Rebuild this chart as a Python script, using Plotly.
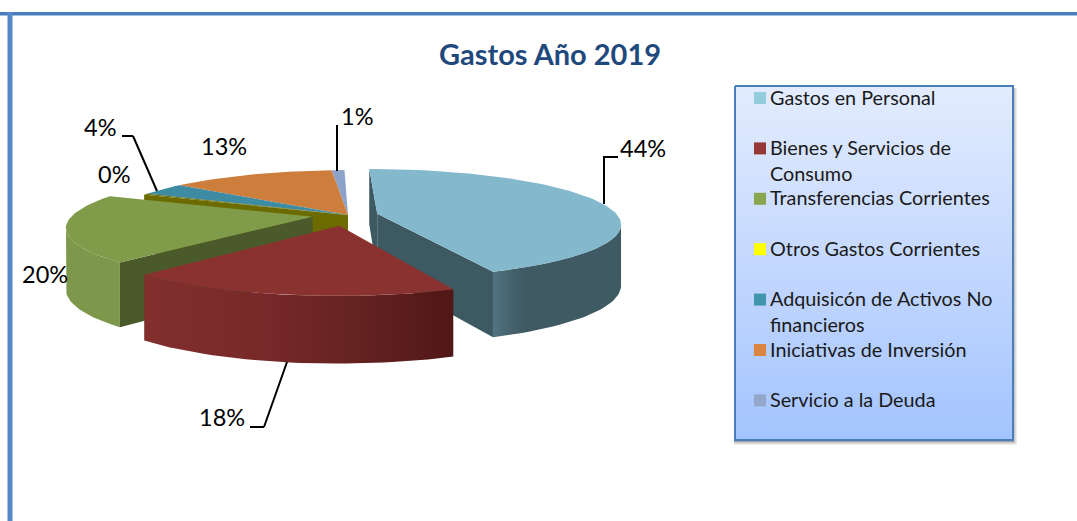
import math
import plotly.graph_objects as go

title = "Gastos Año 2019"
categories = ["Gastos en Personal", "Bienes y Servicios de<br>Consumo", "Transferencias Corrientes",
              "Otros Gastos Corrientes", "Adquisicón de Activos No<br>financieros",
              "Iniciativas de Inversión", "Servicio a la Deuda"]
values = [44, 18, 20, 0.4, 3.6, 13, 1]
pulls = [0.125, 0.2, 0.15, 0, 0, 0, 0]

legend_colors = ["#93cddd", "#953735", "#8aa64f", "#ffff00", "#4196ae", "#dc853f", "#94a7cb"]
top_colors = ["#84b9cd", "#8a3230", "#809c4b", "#6b6b00", "#3e8ca3", "#cd7e3c", "#8da2c9"]
cut_colors = ["#3d5961", "#5a1c1b", "#4a5a2a", "#6b6b00", "#2a6070", "#8a5528", "#60708a"]

# pie projection (pixel space of the full page)
CX, CY, RX, RY, P, DEPTH = 348, 215, 240, 53, 0.18, 60
ROTATION = math.radians(-1)

def proj(u, v, d=0.0):
    s = 1 / (1 - P * v)
    return CX + RX * u * s, CY + RY * v * s + d * DEPTH * s ** 0.5

def slice_angles(i):
    total = sum(values)
    return (ROTATION + 2 * math.pi * sum(values[:i]) / total,
            ROTATION + 2 * math.pi * sum(values[:i + 1]) / total)

def slice_geom(i, a0=None, a1=None):
    s0, s1 = slice_angles(i)
    mid = (s0 + s1) / 2
    a0 = s0 if a0 is None else a0
    a1 = s1 if a1 is None else a1
    du, dv = pulls[i] * math.sin(mid), -pulls[i] * math.cos(mid)
    n = max(3, int((a1 - a0) / 0.03))
    angs = [a0 + (a1 - a0) * k / n for k in range(n + 1)]
    rim = [(du + math.sin(a), dv - math.cos(a)) for a in angs]
    return (du, dv), rim

fig = go.Figure()

def poly(pts, color=None, gradient=None):
    xs = [p[0] for p in pts] + [pts[0][0]]
    ys = [p[1] for p in pts] + [pts[0][1]]
    kw = dict(fillgradient=gradient) if gradient else dict(fillcolor=color)
    fig.add_trace(go.Scatter(x=xs, y=ys, mode="lines", fill="toself", line=dict(width=0),
                             hoverinfo="skip", showlegend=False, **kw))

def top(i):
    tip, rim = slice_geom(i)
    poly([proj(*tip)] + [proj(*r) for r in rim], top_colors[i])

def arc_wall(i, color=None, gradient=None):
    s0, s1 = slice_angles(i)
    sil = math.acos(-P)  # rim silhouette: only the part facing the viewer gets a wall
    a0, a1 = max(s0, sil), min(s1, 2 * math.pi - sil)
    _, rim = slice_geom(i, a0, a1)
    poly([proj(*r) for r in rim] + [proj(*r, 1) for r in reversed(rim)], color, gradient)

def cut_wall(i, end):
    tip, rim = slice_geom(i)
    r = rim[end]
    poly([proj(*tip), proj(*r), proj(*r, 1), proj(*tip, 1)], cut_colors[i])

# back group
for i in (6, 5, 4):
    top(i)
cut_wall(3, 0)
top(3)
# green
arc_wall(2, "#7d984a")
cut_wall(2, 0)
top(2)
# blue
cut_wall(0, -1)
cut_wall(0, 0)
arc_wall(0, gradient=dict(type="horizontal", colorscale=[
    [0, "#4f7482"], [0.12, "#46656f"], [0.25, "#3f5a63"], [1, "#3e5a63"]]))
top(0)
# red
arc_wall(1, gradient=dict(type="horizontal", colorscale=[
    [0, "#822f2e"], [0.4, "#762928"], [0.7, "#642221"], [1, "#4f1716"]]))
top(1)

# legend panel
LX0, LX1, LY0, LY1 = 735, 1013, 86, 440
fig.add_trace(go.Scatter(x=[LX0, LX1, LX1, LX0, LX0], y=[LY0, LY0, LY1, LY1, LY0], mode="lines", fill="toself",
                         fillgradient=dict(type="vertical", colorscale=[[0, "#a3c4ff"], [0.5, "#c4d8fe"], [1, "#e3ecfe"]]),
                         line=dict(color="#4a7ebb", width=2), hoverinfo="skip", showlegend=False))

line_pitch = 50.4
rows = [98 + line_pitch * k for k in range(len(categories))]
fig.add_trace(go.Scatter(x=[760] * len(categories), y=rows, mode="markers",
                         marker=dict(symbol="square", size=12, color=legend_colors, line=dict(width=0)),
                         hoverinfo="skip", showlegend=False))

annotations = [dict(x=550, y=53, text=f"<b>{title}</b>", showarrow=False, xanchor="center", yanchor="middle",
                    font=dict(family="Lato", size=29, color="#1f497d"))]
for y, name in zip(rows, categories):
    annotations.append(dict(x=768, y=y - 15.5, text=name, showarrow=False, xanchor="left", yanchor="top", align="left",
                            font=dict(family="Lato", size=19.8, color="#1a1a1a")))

label_pos = [(643, 148), (222, 417), (45, 274), (114, 174), (100, 127), (224, 146), (357, 116)]
for v, (x, y) in zip(values, label_pos):
    annotations.append(dict(x=x, y=y, text=f"{round(v)}%", showarrow=False, xanchor="center", yanchor="middle",
                            font=dict(family="Lato", size=23.5, color="#000000")))

def seg(x0, y0, x1, y1, color="#000000", w=2):
    return dict(type="line", x0=x0, y0=y0, x1=x1, y1=y1, line=dict(color=color, width=w), layer="above")

shapes = [seg(604, 204, 604, 157), seg(603, 157, 618, 157),
          seg(337, 171, 337, 125),
          seg(157, 191, 133, 136), seg(133, 136, 122, 136),
          seg(287, 362, 264, 427), seg(264, 427, 250, 427),
          dict(type="rect", x0=0, x1=1077, y0=12, y1=15.5, fillcolor="#4a7ebb", line=dict(width=0), layer="below"),
          dict(type="rect", x0=7.5, x1=12.5, y0=12, y1=521, fillcolor="#558ac6", line=dict(width=0), layer="below")]
for k, op in ((5, 0.08), (3.5, 0.14), (2, 0.2)):
    shapes.append(dict(type="rect", x0=LX0 - 1, x1=LX1 + k - 1, y0=LY0 + 2, y1=LY1 + k, fillcolor="#000000",
                       opacity=op, line=dict(width=0), layer="below"))

fig.update_layout(width=1077, height=521, margin=dict(l=0, r=0, t=0, b=0), paper_bgcolor="#ffffff",
                  plot_bgcolor="#ffffff", showlegend=False, annotations=annotations, shapes=shapes,
                  xaxis=dict(range=[0, 1077], visible=False, fixedrange=True),
                  yaxis=dict(range=[521, 0], visible=False, fixedrange=True))
fig.write_html("out.html", config=dict(displayModeBar=False),
               post_script="document.body.style.margin='0';document.body.style.overflow='hidden';")
